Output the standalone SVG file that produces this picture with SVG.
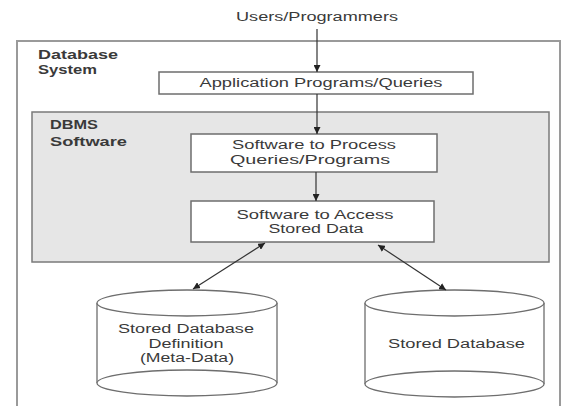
<svg xmlns="http://www.w3.org/2000/svg" width="563" height="406" viewBox="0 0 563 406">
<style>
text{font-family:"Liberation Sans",Arial,sans-serif;font-size:12px;fill:#3a3a3a}
.b{font-weight:bold}
.c{text-anchor:middle}
.box{fill:#fff;stroke:#6e6e6e;stroke-width:1.5}
.cyl{fill:#fff;stroke:#6e6e6e;stroke-width:1.3}
.ln{stroke:#333;stroke-width:1.2;fill:none}
</style>
<defs>
<marker id="ah" viewBox="0 0 10 10" refX="10" refY="5" markerWidth="7" markerHeight="7" markerUnits="userSpaceOnUse" orient="auto-start-reverse">
<path d="M0,0 L10,5 L0,10 z" fill="#222"/>
</marker>
</defs>
<rect width="563" height="406" fill="#fff"/>
<g id="database-system">
<rect x="17" y="41" width="543" height="380" fill="#fff" stroke="#9a9a9a" stroke-width="2"/>
<text class="b" x="38" y="59" textLength="80" lengthAdjust="spacingAndGlyphs">Database</text>
<text class="b" x="38" y="74" textLength="59" lengthAdjust="spacingAndGlyphs">System</text>
</g>
<g id="users">
<text class="c" x="317" y="21" textLength="162" lengthAdjust="spacingAndGlyphs">Users/Programmers</text>
</g>
<g id="app">
<rect class="box" x="159" y="72" width="314" height="22"/>
<text class="c" x="321" y="87" textLength="243" lengthAdjust="spacingAndGlyphs">Application Programs/Queries</text>
</g>
<g id="dbms">
<rect x="32" y="112" width="517" height="150" fill="#e6e6e6" stroke="#7a7a7a" stroke-width="1.5"/>
<text class="b" x="50" y="129" textLength="48" lengthAdjust="spacingAndGlyphs">DBMS</text>
<text class="b" x="50" y="146" textLength="77" lengthAdjust="spacingAndGlyphs">Software</text>
</g>
<g id="process">
<rect class="box" x="191" y="134" width="246" height="38"/>
<text class="c" x="314" y="149" textLength="164" lengthAdjust="spacingAndGlyphs">Software to Process</text>
<text class="c" x="310" y="164" textLength="160" lengthAdjust="spacingAndGlyphs">Queries/Programs</text>
</g>
<g id="access">
<rect class="box" x="191" y="201" width="243" height="41"/>
<text class="c" x="315" y="219" textLength="157" lengthAdjust="spacingAndGlyphs">Software to Access</text>
<text class="c" x="316" y="233" textLength="95" lengthAdjust="spacingAndGlyphs">Stored Data</text>
</g>
<g id="meta-data">
<path class="cyl" d="M97,303 L97,383 A90,13 0 0 0 277,383 L277,303"/>
<ellipse class="cyl" cx="187" cy="303" rx="90" ry="13"/>
<path class="cyl" d="M97,383 A90,13 0 0 1 277,383" fill="none"/>
<text class="c" x="186" y="333" textLength="136" lengthAdjust="spacingAndGlyphs">Stored Database</text>
<text class="c" x="186" y="347.5" textLength="75" lengthAdjust="spacingAndGlyphs">Definition</text>
<text class="c" x="187" y="362" textLength="94" lengthAdjust="spacingAndGlyphs">(Meta-Data)</text>
</g>
<g id="stored-database">
<path class="cyl" d="M365,303 L365,384 A89.5,13 0 0 0 544,384 L544,303"/>
<ellipse class="cyl" cx="454.5" cy="303" rx="89.5" ry="13"/>
<path class="cyl" d="M365,384 A89.5,13 0 0 1 544,384" fill="none"/>
<text class="c" x="456.5" y="348" textLength="137" lengthAdjust="spacingAndGlyphs">Stored Database</text>
</g>
<g id="connectors">
<line class="ln" x1="317" y1="29" x2="317" y2="72" marker-end="url(#ah)"/>
<line class="ln" x1="317" y1="94" x2="317" y2="134" marker-end="url(#ah)"/>
<line class="ln" x1="316" y1="172" x2="316" y2="201" marker-end="url(#ah)"/>
<line class="ln" x1="265" y1="243" x2="193" y2="289" marker-start="url(#ah)" marker-end="url(#ah)"/>
<line class="ln" x1="378" y1="245" x2="446" y2="290" marker-start="url(#ah)" marker-end="url(#ah)"/>
</g>
</svg>
